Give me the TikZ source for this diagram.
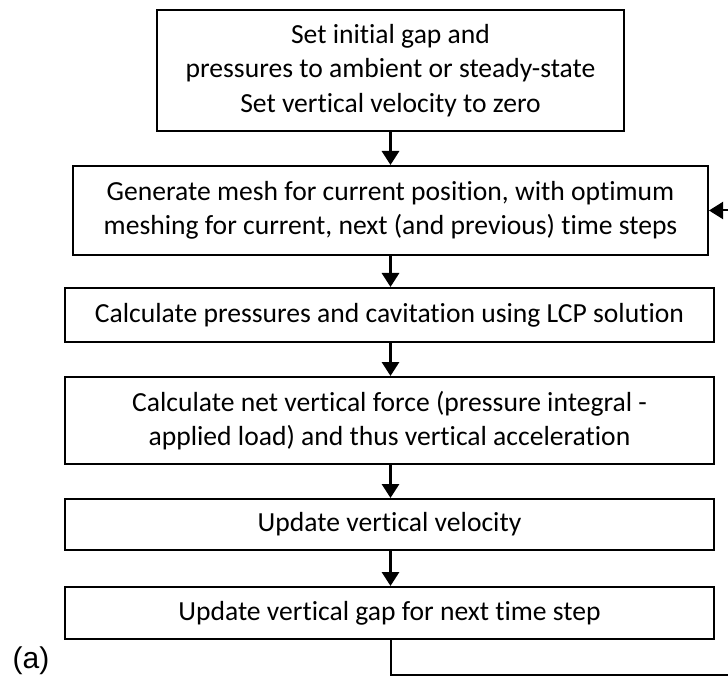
\documentclass[tikz,border=0pt]{standalone}
\usepackage{fontspec}
\setmainfont[Ligatures=CommonOff]{Carlito}
\newfontfamily\labelfont{Liberation Sans}
\usetikzlibrary{arrows.meta}
\begin{document}
\begin{tikzpicture}[x=0.5pt,y=-0.5pt,line join=miter,
		stepbox/.style={draw,line width=1pt,align=center,inner sep=0pt,font=\fontsize{13.8}{17.25}\selectfont},
		flow/.style={line width=1.5pt,-{Triangle[width=8.5pt,length=7pt]}},
		back/.style={line width=1pt,-{Triangle[width=8.5pt,length=7pt]}}]
		\useasboundingbox (0,0) rectangle (728,679) ;
		\node[stepbox,minimum width=233.5pt,minimum height=60.5pt] (init) at (390.5,70.5) {Set initial gap and\\pressures to ambient or steady-state\\Set vertical velocity to zero} ;
		\node[stepbox,minimum width=317.5pt,minimum height=44.5pt] (mesh) at (390.5,210.5) {Generate mesh for current position, with optimum\\meshing for current, next (and previous) time steps} ;
		\node[stepbox,minimum width=324.5pt,minimum height=27pt] (press) at (389.5,315) {Calculate pressures and cavitation using LCP solution} ;
		\node[stepbox,minimum width=324.5pt,minimum height=43.5pt] (force) at (389.5,420.5) {Calculate net vertical force (pressure integral -\\applied load) and thus vertical acceleration} ;
		\node[stepbox,minimum width=324.5pt,minimum height=25.5pt] (vel) at (389.5,524.5) {Update vertical velocity} ;
		\node[stepbox,minimum width=324.5pt,minimum height=26pt] (gap) at (389.5,613) {Update vertical gap for next time step} ;
		\node[font=\labelfont\fontsize{15}{17}\selectfont,inner sep=0pt] (tag) at (31,661) {(a)} ;
		\coordinate (corner) at (734,675) ;
		\draw[flow] (init) -- (mesh) ;
		\draw[flow] (mesh.south) -- (mesh.south |- press.north) ;
		\draw[flow] (mesh.south |- press.south) -- (mesh.south |- force.north) ;
		\draw[flow] (mesh.south |- force.south) -- (mesh.south |- vel.north) ;
		\draw[flow] (mesh.south |- vel.south) -- (mesh.south |- gap.north) ;
		\draw[back] (mesh.south |- gap.south) |- (corner) |- (mesh.east) ;
	\end{tikzpicture}
\end{document}
